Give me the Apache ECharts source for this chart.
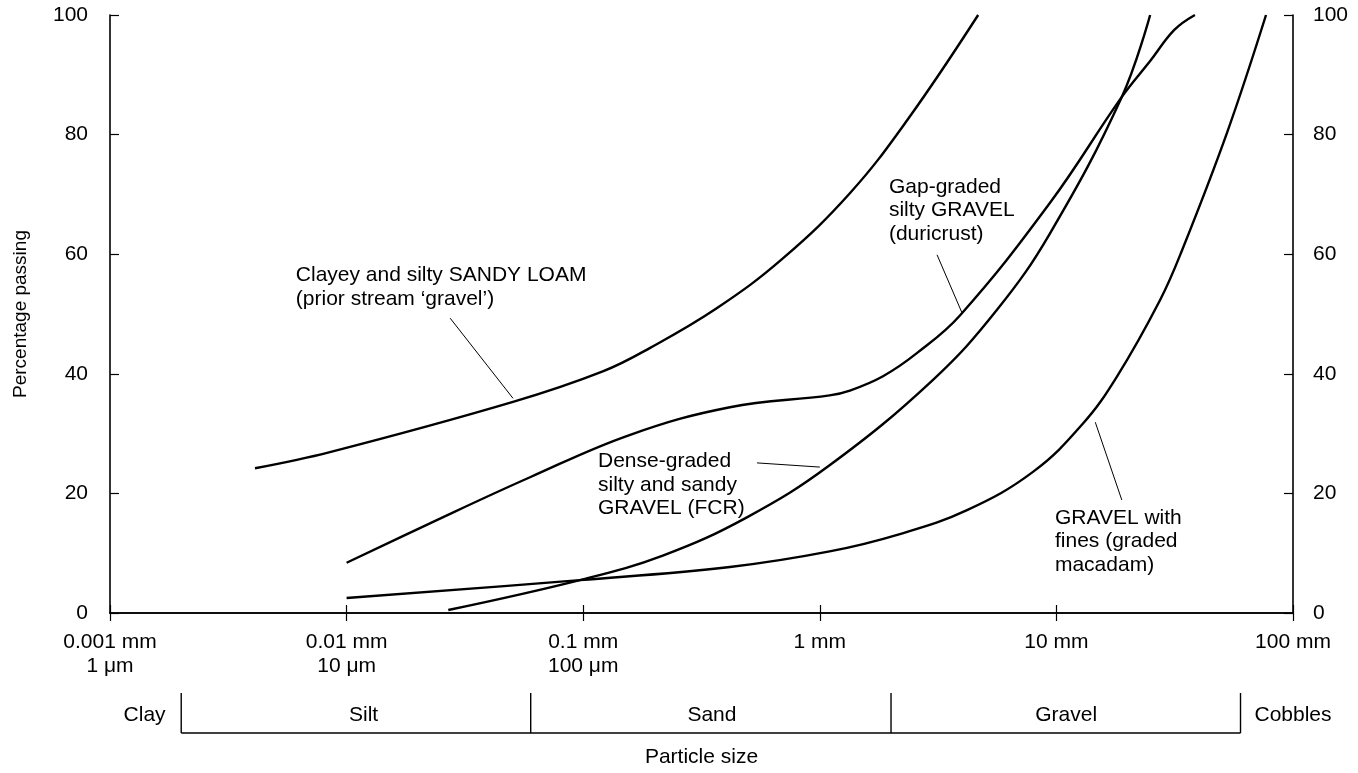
<!DOCTYPE html>
<html><head><meta charset="utf-8">
<script src="https://cdn.jsdelivr.net/npm/echarts@6/dist/echarts.min.js"></script>
<style>html,body{margin:0;padding:0;background:#fff}#c{width:1358px;height:773px}</style>
</head><body><div id="c"></div><script>
// ---- data (particle size in mm, percentage passing) ----
const loamSize  = [0.0041, 0.0085, 0.0505, 0.121, 0.191, 0.368, 0.698, 1.34, 2.34, 4.67];
const loamPct   = [24.2, 26.9, 35.3, 40.4, 44.3, 51.0, 59.3, 70.2, 82.4, 100];
const gapSize   = [0.01, 0.0225, 0.0596, 0.158, 0.417, 1.10, 1.34, 1.85, 2.58, 3.92, 9.40, 18.9, 24.9, 31.5, 38.5];
const gapPct    = [8.4, 15.0, 22.7, 29.8, 34.4, 36.4, 37.2, 39.6, 43.5, 49.8, 68.6, 86.3, 92.3, 97.5, 100];
const denseSize = [0.0269, 0.0968, 0.217, 0.492, 1.10, 3.01, 5.61, 9.40, 18.9, 24.9];
const densePct  = [0.5, 5.5, 9.6, 16.0, 24.7, 39.0, 50.7, 63.5, 86.3, 100];
const macSize   = [0.01, 0.0968, 0.417, 1.10, 2.18, 4.19, 7.96, 12.9, 18.0, 27.4, 34.0, 52.6, 76.9];
const macPct    = [2.5, 5.5, 7.7, 10.3, 13.2, 17.2, 23.6, 31.6, 39.5, 52.3, 60.7, 80.3, 100];

const xTickLabels = ['0.001 mm\n1 μm', '0.01 mm\n10 μm', '0.1 mm\n100 μm', '1 mm', '10 mm', '100 mm'];

const bandBounds = [0.002, 0.06, 2, 60];
const bandNames  = ['Clay', 'Silt', 'Sand', 'Gravel', 'Cobbles'];
const bandLabelAt = [0.0014, 0.0118, 0.35, 11, 100];

// annotations: text, anchor (top-left, data coords), leader line (data coords)
const annTexts = [
  'Clayey and silty SANDY LOAM\n(prior stream ‘gravel’)',
  'Gap-graded\nsilty GRAVEL\n(duricrust)',
  'Dense-graded\nsilty and sandy\nGRAVEL (FCR)',
  'GRAVEL with\nfines (graded\nmacadam)'
];
const annAnchor = [[0.0061, 58.4], [1.96, 73.2], [0.1155, 27.3], [9.86, 17.9]];
const annLeader = [
  [[0.0274, 49.3], [0.0505, 35.9]],
  [[3.13, 59.9], [3.99, 50.2]],
  [[0.543, 25.1], [1.0, 24.4]],
  [[14.6, 31.9], [18.9, 18.9]]
];

const zip = (a, b) => a.map((v, i) => [v, b[i]]);
const FONT = 'Liberation Sans, Arial, Helvetica, sans-serif';
const FS = 21;

const curveStyle = { color: '#000', width: 2.4 };
function curve(name, xs, ys) {
  return { type: 'line', name, data: zip(xs, ys), smooth: 0.4,
    symbol: 'none', lineStyle: curveStyle, silent: true, clip: true };
}
function leader(pts) {
  return { type: 'line', data: pts, symbol: 'none', lineStyle: { color: '#000', width: 1 }, silent: true };
}

const chart = echarts.init(document.getElementById('c'), null, { renderer: 'canvas' });
const axisLineStyle = { color: '#000', width: 1.6 };
const labelFmt = v => { const k = Math.round(Math.log10(v)) + 3; return xTickLabels[k] || ''; };

chart.setOption({
  animation: false,
  backgroundColor: '#fff',
  textStyle: { fontFamily: FONT },
  grid: { left: 110, right: 65, top: 15, bottom: 160 },
  xAxis: [
    { type: 'log', logBase: 10, min: 0.001, max: 100, position: 'bottom',
      axisLine: { lineStyle: axisLineStyle },
      axisTick: { inside: true, length: 8, lineStyle: { color: '#000', width: 1.2 } },
      minorTick: { show: false }, splitLine: { show: false },
      axisLabel: { formatter: labelFmt, color: '#000', fontSize: FS, fontFamily: FONT, lineHeight: 24, margin: 17 },
      name: 'Particle size', nameLocation: 'middle', nameGap: 134,
      nameTextStyle: { color: '#000', fontSize: FS, fontFamily: FONT } },
    { type: 'log', logBase: 10, min: 0.001, max: 100, position: 'top',
      axisLine: { lineStyle: axisLineStyle },
      axisTick: { inside: true, length: 8, lineStyle: { color: '#000', width: 1.2 } },
      axisLabel: { show: false }, splitLine: { show: false } }
  ],
  yAxis: [
    { type: 'value', min: 0, max: 100, interval: 20, position: 'left',
      axisLine: { show: true, lineStyle: axisLineStyle },
      axisTick: { show: true, inside: true, length: 9, lineStyle: { color: '#000', width: 1.2 } },
      splitLine: { show: false },
      axisLabel: { color: '#000', fontSize: FS, fontFamily: FONT, margin: 22 },
      name: 'Percentage passing', nameLocation: 'middle', nameGap: 80, nameRotate: 90,
      nameTextStyle: { color: '#000', fontSize: 19, fontFamily: FONT } },
    { type: 'value', min: 0, max: 100, interval: 20, position: 'right',
      axisLine: { show: true, lineStyle: axisLineStyle },
      axisTick: { show: true, inside: true, length: 9, lineStyle: { color: '#000', width: 1.2 } },
      splitLine: { show: false },
      axisLabel: { color: '#000', fontSize: FS, fontFamily: FONT, margin: 20 } }
  ],
  series: [
    curve('Clayey and silty SANDY LOAM', loamSize, loamPct),
    curve('Gap-graded silty GRAVEL', gapSize, gapPct),
    curve('Dense-graded silty and sandy GRAVEL', denseSize, densePct),
    curve('GRAVEL with fines', macSize, macPct),
    ...annLeader.map(leader)
  ]
});

// graphic overlays positioned from data coordinates
const px = (x, y) => chart.convertToPixel({ xAxisIndex: 0, yAxisIndex: 0 }, [x, y]);
const gx = v => chart.convertToPixel({ xAxisIndex: 0 }, v);
const graphics = [];
annTexts.forEach((t, i) => {
  const p = px(annAnchor[i][0], annAnchor[i][1]);
  graphics.push({ type: 'text', x: p[0], y: p[1], silent: true,
    style: { text: t, fill: '#000', font: FS + 'px ' + FONT, lineHeight: 23.5, align: 'left', verticalAlign: 'top' } });
});
const bandTop = 693, bandBot = 733, bandTextY = 715;
const bx = bandBounds.map(gx);
graphics.push({ type: 'polyline', silent: true, shape: { points: [[bx[0], bandBot], [bx[bx.length - 1], bandBot]] },
  style: { stroke: '#000', lineWidth: 1.4 } });
bx.forEach(x => graphics.push({ type: 'line', silent: true, shape: { x1: x, y1: bandTop, x2: x, y2: bandBot },
  style: { stroke: '#000', lineWidth: 1.4 } }));
bandNames.forEach((n, i) => graphics.push({ type: 'text', silent: true, x: gx(bandLabelAt[i]), y: bandTextY,
  style: { text: n, fill: '#000', font: FS + 'px ' + FONT, align: 'center', verticalAlign: 'middle' } }));
chart.setOption({ graphic: graphics });
</script></body></html>
